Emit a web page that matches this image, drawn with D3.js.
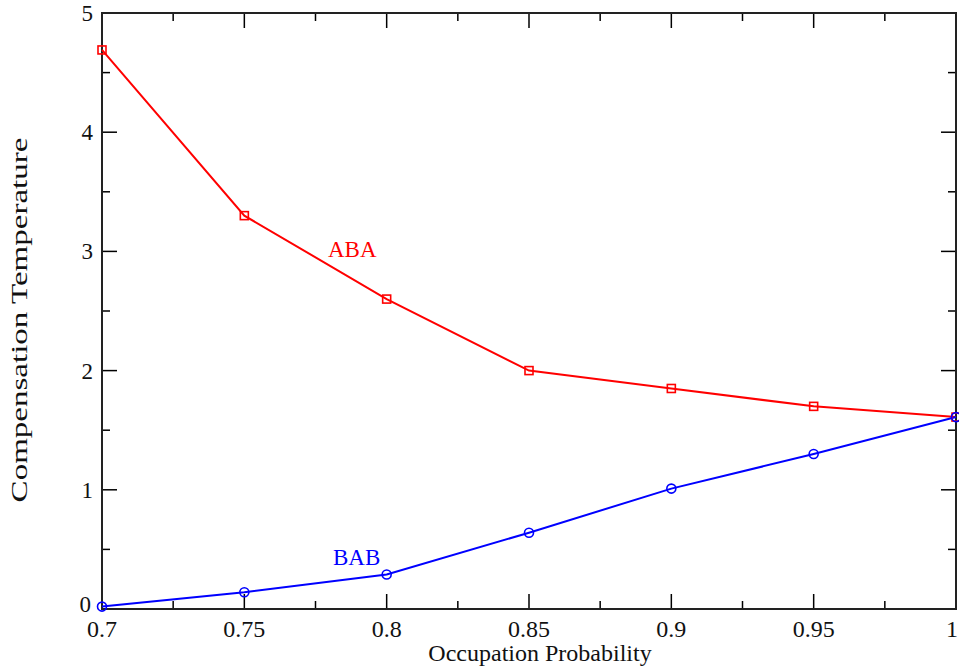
<!DOCTYPE html>
<html><head><meta charset="utf-8">
<script src="https://cdn.jsdelivr.net/npm/d3@7"></script>
<style>body{margin:0;background:#fff}svg{display:block}text{font-family:"Liberation Serif","Times New Roman",serif}</style>
</head><body><svg id="c" width="959" height="670"></svg>
<script>
const xValues = [0.7, 0.75, 0.8, 0.85, 0.9, 0.95, 1.0];
const abaValues = [4.69, 3.30, 2.60, 2.00, 1.85, 1.70, 1.61];
const babValues = [0.02, 0.14, 0.29, 0.64, 1.01, 1.30, 1.61];
const xTicks = [0.7, 0.75, 0.8, 0.85, 0.9, 0.95, 1];
const xTickLabels = ["0.7", "0.75", "0.8", "0.85", "0.9", "0.95", "1"];
const yTicks = [0, 1, 2, 3, 4, 5];
const seriesNames = ["ABA", "BAB"];

const svg = d3.select("#c");
const L = 102, R = 956, T = 13, B = 609;
const x = d3.scaleLinear().domain([0.7, 1]).range([L, R]);
const y = d3.scaleLinear().domain([0, 5]).range([B, T]);

const xMinor = d3.range(0.725, 1, 0.05);
const yMinor = d3.range(0.5, 5, 1);

const g = svg.append("g");
const tk = g.append("g").attr("stroke", "#000").attr("stroke-width", 1.5);
const MAJ = 15, MIN = 8;
xTicks.forEach(v => {
  tk.append("line").attr("x1", x(v)).attr("x2", x(v)).attr("y1", B).attr("y2", B - MAJ);
  tk.append("line").attr("x1", x(v)).attr("x2", x(v)).attr("y1", T).attr("y2", T + MAJ);
});
xMinor.forEach(v => {
  tk.append("line").attr("x1", x(v)).attr("x2", x(v)).attr("y1", B).attr("y2", B - MIN);
  tk.append("line").attr("x1", x(v)).attr("x2", x(v)).attr("y1", T).attr("y2", T + MIN);
});
yTicks.forEach(v => {
  tk.append("line").attr("y1", y(v)).attr("y2", y(v)).attr("x1", L).attr("x2", L + MAJ);
  tk.append("line").attr("y1", y(v)).attr("y2", y(v)).attr("x1", R).attr("x2", R - MAJ);
});
yMinor.forEach(v => {
  tk.append("line").attr("y1", y(v)).attr("y2", y(v)).attr("x1", L).attr("x2", L + MIN);
  tk.append("line").attr("y1", y(v)).attr("y2", y(v)).attr("x1", R).attr("x2", R - MIN);
});
g.append("rect").attr("x", L).attr("y", T).attr("width", R - L).attr("height", B - T)
  .attr("fill", "none").attr("stroke", "#222").attr("stroke-width", 2);

// tick labels
xTicks.forEach((v, i) => {
  const last = i === xTicks.length - 1;
  g.append("text").attr("x", last ? 958 : x(v)).attr("y", 637)
    .attr("text-anchor", last ? "end" : "middle")
    .attr("font-size", 24).attr("fill", "#111").text(xTickLabels[i]);
});
yTicks.forEach(v => {
  g.append("text").attr("x", v === 0 ? 91 : 93).attr("y", y(v) + (v === 0 ? 3 : 8)).attr("text-anchor", "end")
    .attr("font-size", 23).attr("fill", "#111").text(v);
});
g.append("text").attr("x", 540).attr("y", 661).attr("text-anchor", "middle")
  .attr("font-size", 24).attr("fill", "#111").text("Occupation Probability");
const yt = g.append("text").attr("text-anchor", "middle")
  .attr("font-size", 24).attr("fill", "#111")
  .text("Compensation Temperature");
const w = yt.node().getComputedTextLength();
yt.attr("transform", `translate(27,320) rotate(-90) scale(${365 / w},1)`);

const line = d3.line().x(d => x(d[0])).y(d => y(d[1]));
const aba = xValues.map((v, i) => [v, abaValues[i]]);
const bab = xValues.map((v, i) => [v, babValues[i]]);

g.append("path").datum(aba).attr("d", line).attr("fill", "none").attr("stroke", "#ff0000").attr("stroke-width", 2);
g.append("path").datum(bab).attr("d", line).attr("fill", "none").attr("stroke", "#0000ff").attr("stroke-width", 2);

g.selectAll(".sq").data(aba).join("rect").attr("x", d => x(d[0]) - 4).attr("y", d => y(d[1]) - 4)
  .attr("width", 8).attr("height", 8).attr("fill", "none").attr("stroke", "#ff0000").attr("stroke-width", 1.6);
g.selectAll(".ci").data(bab).join("circle").attr("cx", d => x(d[0])).attr("cy", d => y(d[1]))
  .attr("r", 4.5).attr("fill", "none").attr("stroke", "#0000ff").attr("stroke-width", 1.6);

g.append("text").attr("x", 328).attr("y", 257).attr("font-size", 23).attr("fill", "#ff0000").text(seriesNames[0]);
g.append("text").attr("x", 333).attr("y", 565).attr("font-size", 23).attr("fill", "#0000ff").text(seriesNames[1]);
</script></body></html>
